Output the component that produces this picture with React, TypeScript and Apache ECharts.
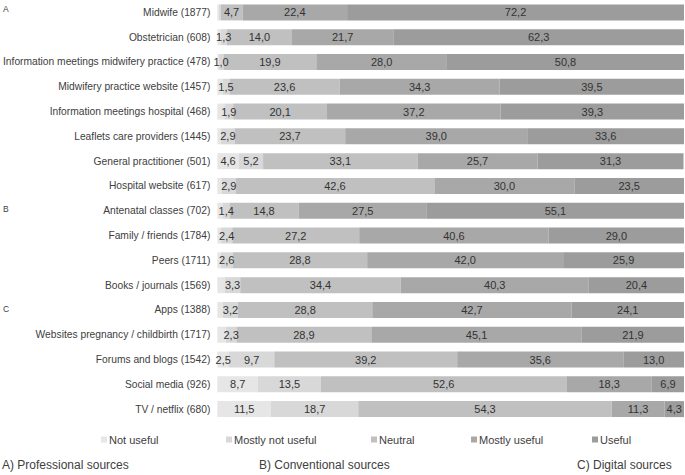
import React, { useEffect, useRef } from "react";
import * as echarts from "echarts";

const categories = [
  "Midwife (1877)",
  "Obstetrician (608)",
  "Information meetings midwifery practice (478)",
  "Midwifery practice website (1457)",
  "Information meetings hospital (468)",
  "Leaflets care providers (1445)",
  "General practitioner (501)",
  "Hospital website (617)",
  "Antenatal classes (702)",
  "Family / friends (1784)",
  "Peers (1711)",
  "Books / journals (1569)",
  "Apps (1388)",
  "Websites pregnancy / childbirth (1717)",
  "Forums and blogs (1542)",
  "Social media (926)",
  "TV / netflix (680)",
];

const seriesNames = ["Not useful", "Mostly not useful", "Neutral", "Mostly useful", "Useful"];

const notUseful = [0.3, 0.7, 0.3, 1.1, 1.5, 0.8, 4.6, 1.0, 1.2, 0.8, 0.7, 1.6, 1.2, 1.8, 2.5, 8.7, 11.5];
const mostlyNotUseful = [0.4, 1.3, 1.0, 1.5, 1.9, 2.9, 5.2, 2.9, 1.4, 2.4, 2.6, 3.3, 3.2, 2.3, 9.7, 13.5, 18.7];
const neutral = [4.7, 14.0, 19.9, 23.6, 20.1, 23.7, 33.1, 42.6, 14.8, 27.2, 28.8, 34.4, 28.8, 28.9, 39.2, 52.6, 54.3];
const mostlyUseful = [22.4, 21.7, 28.0, 34.3, 37.2, 39.0, 25.7, 30.0, 27.5, 40.6, 42.0, 40.3, 42.7, 45.1, 35.6, 18.3, 11.3];
const useful = [72.2, 62.3, 50.8, 39.5, 39.3, 33.6, 31.3, 23.5, 55.1, 29.0, 25.9, 20.4, 24.1, 21.9, 13.0, 6.9, 4.3];

// which values carry a printed label
const notUsefulLabeled = [false, false, false, false, false, false, true, false, false, false, false, false, false, false, true, true, true];
const mostlyNotUsefulLabeled = [false, true, true, true, true, true, true, true, true, true, true, true, true, true, true, true, true];

const groupLetters = [
  { text: "A", row: 0 },
  { text: "B", row: 8 },
  { text: "C", row: 12 },
];
const sectionTitles = ["A) Professional sources", "B) Conventional sources", "C) Digital sources"];

const colors = ["#e6e6e6", "#d8d8d8", "#c0c0c0", "#a8a8a8", "#9c9c9c"];

export default function App() {
  const ref = useRef<HTMLDivElement>(null);

  useEffect(() => {
    if (!ref.current) return;
    const chart = echarts.init(ref.current, null, { renderer: "svg" });

    const font = "'Liberation Sans', Arial, sans-serif";
    const fmt = (v: number) => v.toFixed(1).replace(".", ",");
    const values = [notUseful, mostlyNotUseful, neutral, mostlyUseful, useful];
    const masks: (boolean[] | null)[] = [notUsefulLabeled, mostlyNotUsefulLabeled, null, null, null];

    const gridTop = -3.5;
    const band = 25;
    const rowY = (r: number) => gridTop + band * r + band / 2;

    const legendLefts = [96, 221, 366, 466, 587];

    const option: any = {
      animation: false,
      backgroundColor: "#ffffff",
      textStyle: { fontFamily: font },
      grid: { left: 215, right: 1, top: gridTop, height: band * categories.length, containLabel: false },
      xAxis: { type: "value", min: 0, max: 100, show: false },
      yAxis: {
        type: "category",
        data: categories,
        inverse: true,
        axisLine: { show: false },
        axisTick: { show: false },
        splitLine: { show: false },
        axisLabel: { fontSize: 10.25, color: "#404040", margin: 7, fontFamily: font },
      },
      legend: seriesNames.map((n, i) => ({
        data: [n],
        left: legendLefts[i],
        top: 429,
        icon: "rect",
        itemWidth: 6,
        itemHeight: 6,
        selectedMode: false,
        textStyle: { fontSize: 11, color: "#404040", padding: [0, 0, 0, -3], fontFamily: font },
      })),
      series: seriesNames.map((n, si) => ({
        name: n,
        type: "bar",
        stack: "total",
        barWidth: 16,
        itemStyle: { color: colors[si] },
        label: {
          show: true,
          position: "inside",
          fontSize: 11,
          color: "#333333",
          fontFamily: font,
          formatter: (p: any) => fmt(p.value),
        },
        data: values[si].map((v, r) => {
          const m = masks[si];
          if (m && !m[r]) return { value: v, label: { show: false } };
          return v;
        }),
      })),
      graphic: [
        ...groupLetters.map((g) => ({
          type: "text",
          left: 3,
          top: rowY(g.row) - 5,
          style: { text: g.text, fontSize: 8.5, fill: "#404040", fontFamily: font },
        })),
        {
          type: "text",
          left: 2,
          top: 459,
          style: { text: sectionTitles[0], fontSize: 12, fill: "#404040", fontFamily: font },
        },
        {
          type: "text",
          left: 259,
          top: 459,
          style: { text: sectionTitles[1], fontSize: 12, fill: "#404040", fontFamily: font },
        },
        {
          type: "text",
          left: 577,
          top: 459,
          style: { text: sectionTitles[2], fontSize: 12, fill: "#404040", fontFamily: font },
        },
      ],
    };

    chart.setOption(option);
    return () => chart.dispose();
  }, []);

  return <div ref={ref} style={{ width: 685, height: 475, position: "absolute", left: 0, top: 0 }} />;
}
